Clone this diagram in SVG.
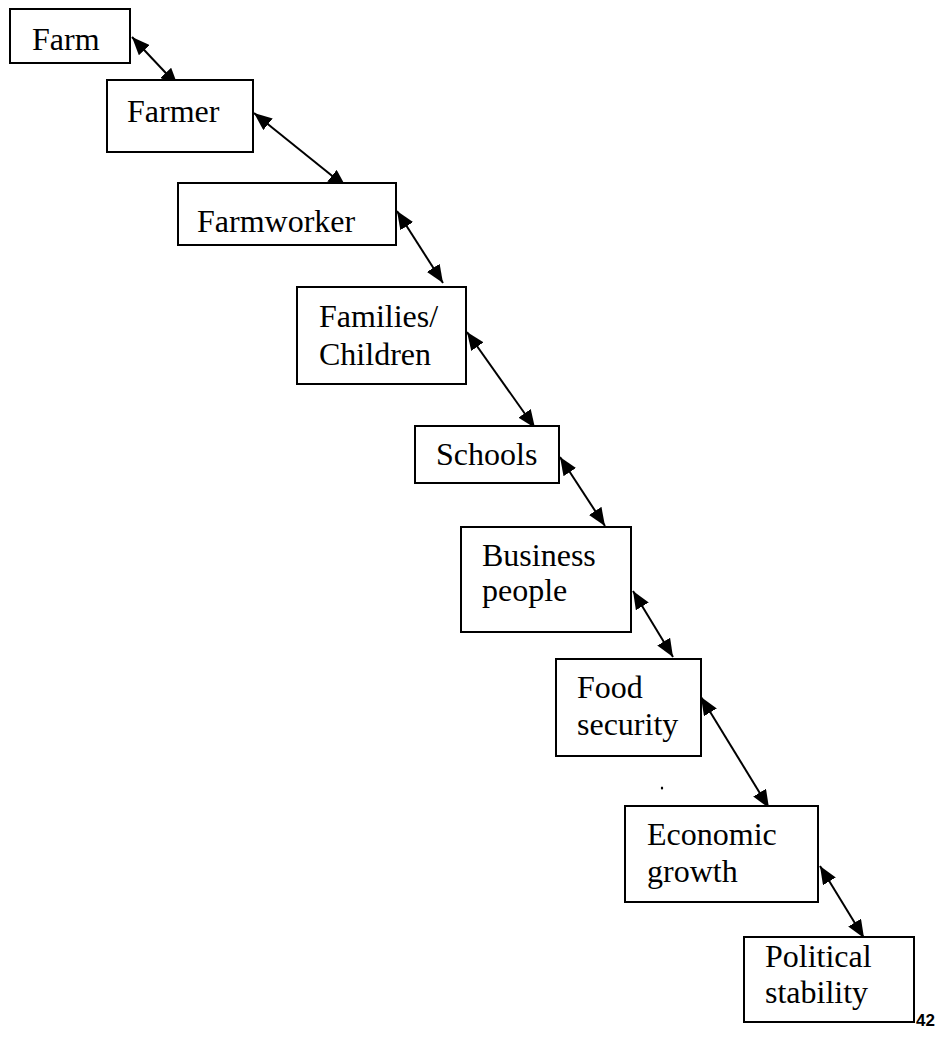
<svg xmlns="http://www.w3.org/2000/svg" width="941" height="1039" viewBox="0 0 941 1039">
<defs>
<marker id="ah" markerUnits="userSpaceOnUse" markerWidth="19" markerHeight="15" refX="18" refY="7.5" orient="auto-start-reverse" viewBox="0 0 19 15">
<path d="M0,0 L18,7.5 L0,15 z" fill="#000"/>
</marker>
<style>
.box{fill:#fff;stroke:#000;stroke-width:2}
.lbl{font-size:32px;fill:#000}
.con{stroke:#000;stroke-width:2;fill:none;marker-start:url(#ah);marker-end:url(#ah)}
.pg{font-size:17px;font-weight:bold;fill:#000}
</style>
</defs>
<rect width="941" height="1039" fill="#fff"/>
<g id="connectors">
<line class="con" x1="132" y1="37" x2="178" y2="86"/>
<line class="con" x1="254" y1="113" x2="346" y2="187"/>
<line class="con" x1="397" y1="211" x2="443" y2="283"/>
<line class="con" x1="467" y1="332" x2="535" y2="428"/>
<line class="con" x1="560" y1="457" x2="605" y2="526"/>
<line class="con" x1="633" y1="591" x2="673" y2="657"/>
<line class="con" x1="701" y1="697" x2="769" y2="808"/>
<line class="con" x1="820" y1="866" x2="864" y2="938"/>
</g>
<g font-family="'Liberation Serif', 'Times New Roman', 'DejaVu Serif', serif">
<g id="farm"><rect class="box" x="10" y="9" width="120" height="54"/><text class="lbl" x="32" y="50">Farm</text></g>
<g id="farmer"><rect class="box" x="107" y="80" width="146" height="72"/><text class="lbl" x="127" y="122">Farmer</text></g>
<g id="farmworker"><rect class="box" x="178" y="183" width="218" height="62"/><text class="lbl" x="197" y="232">Farmworker</text></g>
<g id="families"><rect class="box" x="297" y="287" width="169" height="97"/><text class="lbl" x="319" y="327">Families/</text><text class="lbl" x="319" y="365">Children</text></g>
<g id="schools"><rect class="box" x="415" y="426" width="144" height="57"/><text class="lbl" x="436" y="465">Schools</text></g>
<g id="business"><rect class="box" x="461" y="527" width="170" height="105"/><text class="lbl" x="482" y="566">Business</text><text class="lbl" x="482" y="601">people</text></g>
<g id="food"><rect class="box" x="556" y="659" width="145" height="97"/><text class="lbl" x="577" y="698">Food</text><text class="lbl" x="577" y="735">security</text></g>
<g id="economic"><rect class="box" x="625" y="806" width="193" height="96"/><text class="lbl" x="647" y="845">Economic</text><text class="lbl" x="647" y="882">growth</text></g>
<g id="political"><rect class="box" x="744" y="937" width="170" height="85"/><text class="lbl" x="765" y="967">Political</text><text class="lbl" x="765" y="1003">stability</text></g>
</g>
<ellipse cx="662" cy="788" rx="1.2" ry="1.6" fill="#000"/>
<text class="pg" font-family="'Liberation Sans', Arial, sans-serif" x="916" y="1026">42</text>
</svg>
